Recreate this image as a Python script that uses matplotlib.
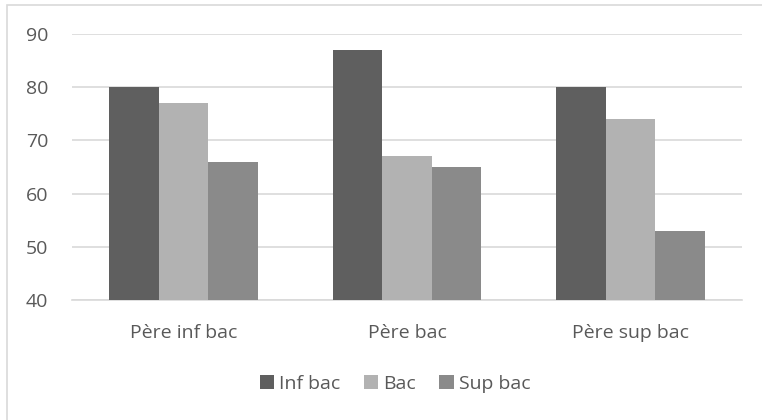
import numpy as np
import matplotlib
matplotlib.use('Agg')
import matplotlib.pyplot as plt
from matplotlib.patches import Rectangle

categories = ['Père inf bac', 'Père bac', 'Père sup bac']
series = ['Inf bac', 'Bac', 'Sup bac']
inf_bac = [80, 87, 80]
bac = [77, 67, 74]
sup_bac = [66, 65, 53]
yticks = [40, 50, 60, 70, 80, 90]

colors = ['#5f5f5f', '#b2b2b2', '#8a8a8a']
txt = '#595959'
plt.rcParams['font.family'] = ['Open Sans', 'DejaVu Sans']

fig = plt.figure(figsize=(7.62, 4.2), dpi=100)
ax = fig.add_axes([72 / 762, 1 - 300 / 420, (742 - 72) / 762, (300 - 34) / 420])

# cadre autour du graphique
fig.patches.append(Rectangle((7 / 762, -0.05), 1.0, 1 - 5.5 / 420 + 0.05,
                             transform=fig.transFigure, fill=False,
                             edgecolor='#d9d9d9', lw=1.2))

x = np.arange(len(categories))
w = 0.222
for i, (vals, name) in enumerate(zip([inf_bac, bac, sup_bac], series)):
    ax.bar(x + (i - 1) * w, np.array(vals) - 40, w, bottom=40, color=colors[i],
           label=name, zorder=3)

ax.set_xlim(-0.5, 2.5)
ax.set_ylim(40, 90)
ax.set_yticks(yticks)
ax.yaxis.grid(True, color='#d9d9d9', lw=1.2, zorder=0)
for s in ['top', 'right', 'left']:
    ax.spines[s].set_visible(False)
ax.spines['bottom'].set_color('#d9d9d9')
ax.spines['bottom'].set_linewidth(1.2)
ax.set_xticks(x)
ax.set_xticklabels(categories)
ax.tick_params(axis='both', length=0, colors=txt, labelsize=14)
ax.tick_params(axis='x', pad=17)
ax.tick_params(axis='y', pad=17)

ax.legend(loc='center', bbox_to_anchor=(0.482, -0.315), ncol=3, frameon=False,
          fontsize=14, labelcolor=txt, handlelength=0.75, handleheight=0.75,
          handletextpad=0.25, columnspacing=1.2)

fig.savefig('out.png', dpi=100)
